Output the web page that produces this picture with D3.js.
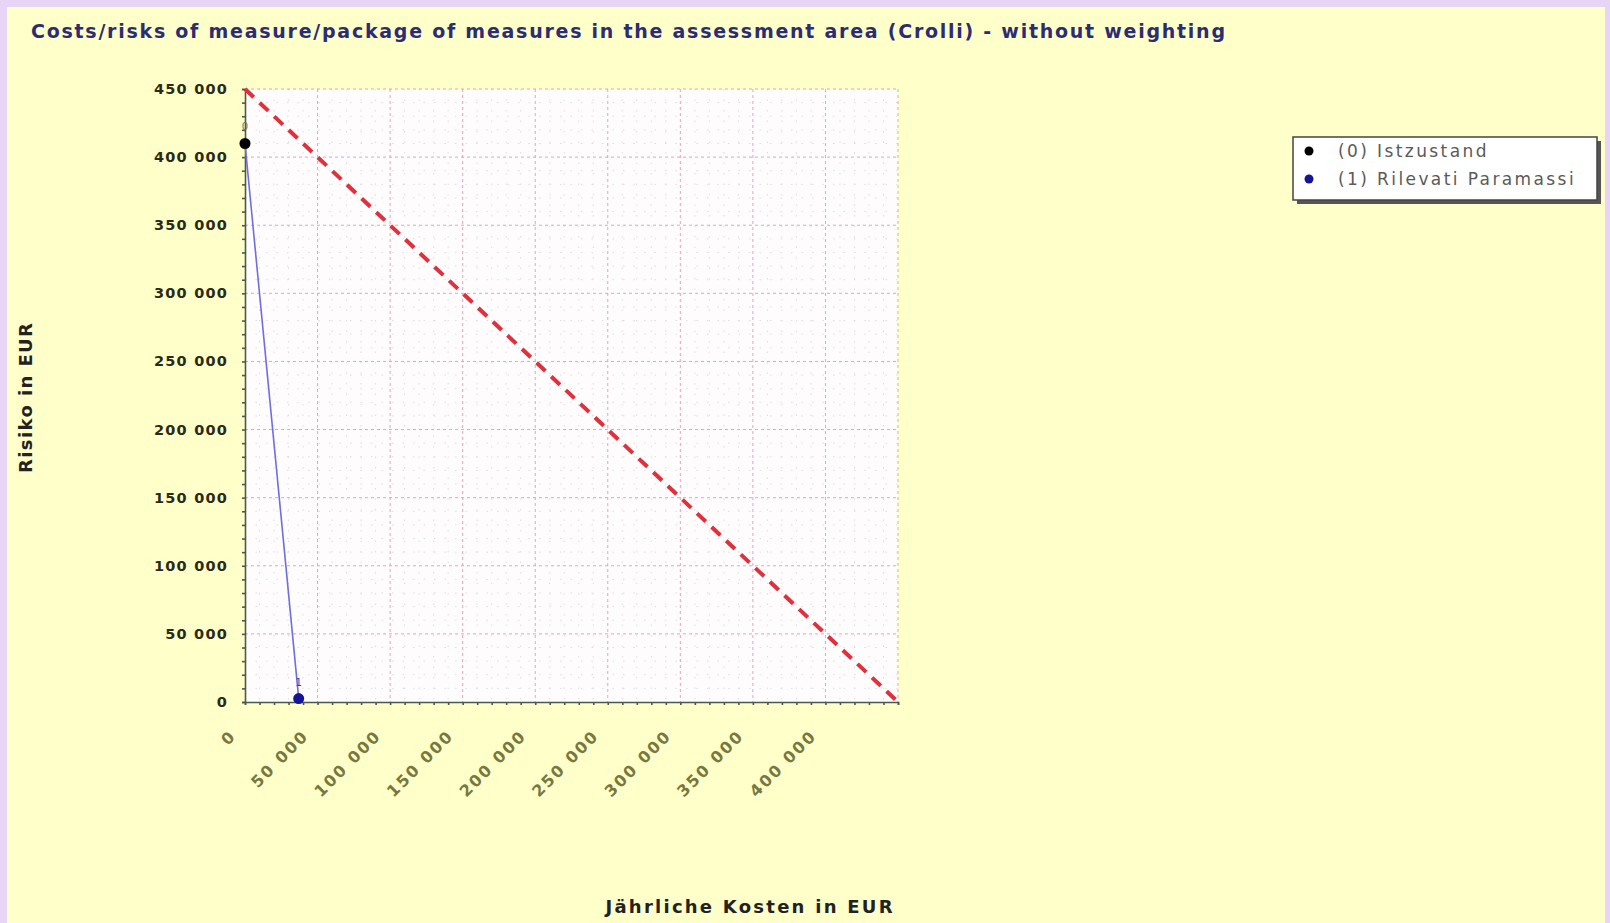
<!DOCTYPE html>
<html>
<head>
    <meta charset="utf-8">
    <title>Costs/risks chart</title>
    <script src="https://d3js.org/d3.v7.min.js"></script>
    <style>
        body, html {
            margin: 0;
            padding: 0;
            overflow: hidden;
            background: #e8d4f6;
        }
        svg text {
            font-family: "DejaVu Sans", sans-serif;
        }
    </style>
</head>
<body>
<div id="chart"></div>
<script>
    // chart data
    const titleText = "Costs/risks of measure/package of measures in the assessment area (Crolli) - without weighting";
    const xTitle = "Jährliche Kosten in EUR";
    const yTitle = "Risiko in EUR";
    const xTicks = [0, 50000, 100000, 150000, 200000, 250000, 300000, 350000, 400000];
    const yTicks = [0, 50000, 100000, 150000, 200000, 250000, 300000, 350000, 400000, 450000];
    const seriesNames = ["(0) Istzustand", "(1) Rilevati Paramassi"];
    const seriesIds = ["0", "1"];
    const costs = [0, 37000];
    const risks = [410000, 2500];
    const refCosts = [0, 450000];   // reference line cost = risk
    const refRisks = [450000, 0];

    const width = 1610, height = 923;
    const plot = {left: 245, top: 89, right: 898, bottom: 702};
    const colors = ["#000000", "#141496"];

    const svg = d3.select("#chart").append("svg")
        .attr("width", width)
        .attr("height", height);

    // cream panel inside the lilac frame
    svg.append("rect")
        .attr("x", 7).attr("y", 7)
        .attr("width", width - 12).attr("height", height - 7)
        .attr("fill", "#ffffca");

    const x = d3.scaleLinear().domain([0, 450000]).range([plot.left, plot.right]);
    const y = d3.scaleLinear().domain([0, 450000]).range([plot.bottom, plot.top]);
    const fmt = v => d3.format(",")(v).replace(/,/g, " ");

    // plot background
    svg.append("rect")
        .attr("x", plot.left).attr("y", plot.top)
        .attr("width", plot.right - plot.left).attr("height", plot.bottom - plot.top)
        .attr("fill", "#fffcfe");

    // minor grid (dotted)
    const minor = d3.range(0, 450001, 10000).filter(v => v % 50000 !== 0);
    svg.append("g").selectAll("line.mx").data(minor).join("line")
        .attr("x1", d => x(d)).attr("x2", d => x(d))
        .attr("y1", plot.top).attr("y2", plot.bottom)
        .attr("stroke", "#dcdce4").attr("stroke-width", 1)
        .attr("stroke-dasharray", "1.5,9");
    svg.append("g").selectAll("line.my").data(minor).join("line")
        .attr("y1", d => y(d)).attr("y2", d => y(d))
        .attr("x1", plot.left).attr("x2", plot.right)
        .attr("stroke", "#dcdce4").attr("stroke-width", 1)
        .attr("stroke-dasharray", "1.5,9");

    // major grid (pink dashed)
    const major = d3.range(50000, 450001, 50000);
    svg.append("g").selectAll("line").data(major).join("line")
        .attr("x1", d => x(d)).attr("x2", d => x(d))
        .attr("y1", plot.top).attr("y2", plot.bottom)
        .attr("stroke", "#eea0b8").attr("stroke-width", 1)
        .attr("stroke-dasharray", "3,3");
    svg.append("g").selectAll("line").data(major).join("line")
        .attr("y1", d => y(d)).attr("y2", d => y(d))
        .attr("x1", plot.left).attr("x2", plot.right)
        .attr("stroke", "#eea0b8").attr("stroke-width", 1)
        .attr("stroke-dasharray", "3,3");

    // axes
    const xAxis = d3.axisBottom(x).tickValues(d3.range(0, 450001, 10000)).tickSize(3).tickFormat("");
    const yAxis = d3.axisLeft(y).tickValues(d3.range(0, 450001, 10000)).tickSize(3).tickFormat("");
    svg.append("g").attr("transform", `translate(0,${plot.bottom})`).call(xAxis)
        .call(g => g.selectAll("path, line").attr("stroke", "#4a5a4a").attr("stroke-width", 1.6));
    svg.append("g").attr("transform", `translate(${plot.left},0)`).call(yAxis)
        .call(g => g.selectAll("path, line").attr("stroke", "#4a5a4a").attr("stroke-width", 1.6));

    // y tick labels
    svg.append("g").selectAll("text").data(yTicks).join("text")
        .attr("x", 228).attr("y", d => y(d) + 5)
        .attr("text-anchor", "end")
        .attr("font-size", 14.5).attr("font-weight", "bold")
        .attr("letter-spacing", 1.2)
        .attr("fill", "#2a2a18")
        .text(d => fmt(d));

    // x tick labels, rotated
    svg.append("g").selectAll("text").data(xTicks).join("text")
        .attr("transform", d => `translate(${x(d) - 8},${plot.bottom + 35}) rotate(-45)`)
        .attr("text-anchor", "end")
        .attr("font-size", 16).attr("font-weight", "bold")
        .attr("letter-spacing", 2)
        .attr("fill", "#78783e")
        .text(d => fmt(d));

    // reference line (cost = risk)
    const refData = refCosts.map((c, i) => [c, refRisks[i]]);
    svg.append("path")
        .datum(refData)
        .attr("d", d3.line().x(d => x(d[0])).y(d => y(d[1])))
        .attr("fill", "none")
        .attr("stroke", "#e0303c")
        .attr("stroke-width", 4)
        .attr("stroke-dasharray", "12,8");

    // connection line between measures
    const pts = costs.map((c, i) => [c, risks[i]]);
    svg.append("path")
        .datum(pts)
        .attr("d", d3.line().x(d => x(d[0])).y(d => y(d[1])))
        .attr("fill", "none")
        .attr("stroke", "#6e6ee0")
        .attr("stroke-width", 1.6);

    // points and their labels
    svg.append("g").selectAll("circle").data(pts).join("circle")
        .attr("cx", d => x(d[0])).attr("cy", d => y(d[1]))
        .attr("r", 5.5)
        .attr("fill", (d, i) => colors[i]);
    svg.append("g").selectAll("text").data(pts).join("text")
        .attr("x", d => x(d[0]))
        .attr("y", d => y(d[1]) - 13)
        .attr("text-anchor", "middle")
        .attr("font-size", 10)
        .attr("fill", (d, i) => i === 0 ? "#667766" : "#3a3aa0")
        .text((d, i) => seriesIds[i]);

    // title
    svg.append("text")
        .attr("x", 31).attr("y", 38)
        .attr("font-size", 19).attr("font-weight", "bold")
        .attr("fill", "#2c2c74")
        .attr("textLength", 1194).attr("lengthAdjust", "spacing")
        .text(titleText);

    // axis titles
    svg.append("text")
        .attr("x", 749).attr("y", 913)
        .attr("text-anchor", "middle")
        .attr("font-size", 18).attr("font-weight", "bold")
        .attr("fill", "#222")
        .attr("textLength", 287).attr("lengthAdjust", "spacing")
        .text(xTitle);
    svg.append("text")
        .attr("transform", "translate(32,398) rotate(-90)")
        .attr("text-anchor", "middle")
        .attr("font-size", 18).attr("font-weight", "bold")
        .attr("fill", "#222")
        .attr("textLength", 150).attr("lengthAdjust", "spacing")
        .text(yTitle);

    // legend
    const legend = svg.append("g").attr("transform", "translate(1293,137)");
    legend.append("rect")
        .attr("x", 4).attr("y", 4).attr("width", 304).attr("height", 63)
        .attr("fill", "#555");
    legend.append("rect")
        .attr("width", 304).attr("height", 63)
        .attr("fill", "#ffffff").attr("stroke", "#444").attr("stroke-width", 1.5);
    seriesNames.forEach((name, i) => {
        legend.append("circle")
            .attr("cx", 16).attr("cy", 14 + i * 28).attr("r", 4.5)
            .attr("fill", colors[i]);
        legend.append("text")
            .attr("x", 45).attr("y", 20 + i * 28)
            .attr("font-size", 17)
            .attr("fill", "#5a5a5a")
            .attr("letter-spacing", 2.4)
            .text(name);
    });
</script>
</body>
</html>
